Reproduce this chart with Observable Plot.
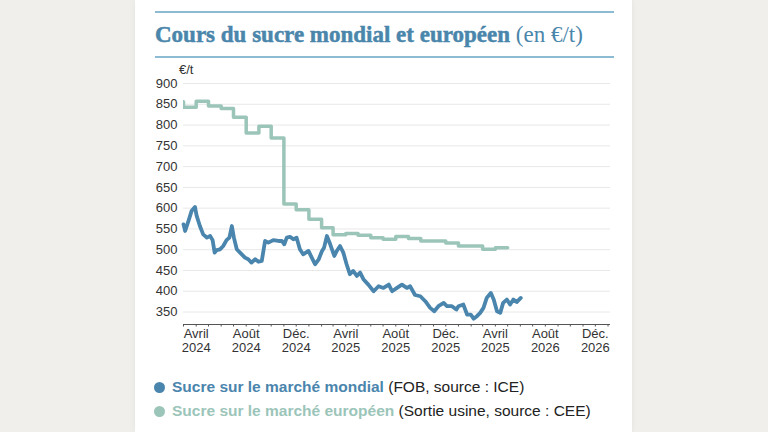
<!DOCTYPE html>
<html><head><meta charset="utf-8">
<script src="https://cdn.jsdelivr.net/npm/d3@7"></script>
<script src="https://cdn.jsdelivr.net/npm/@observablehq/plot@0.6"></script>
<style>
html,body{margin:0;padding:0;width:768px;height:432px;overflow:hidden;background:#f1efeb;font-family:"Liberation Sans",Arial,sans-serif;}
#panel{position:absolute;left:135px;top:0;width:497px;height:432px;background:#fff;box-shadow:0 0 6px rgba(0,0,0,0.06);}
.rule{position:absolute;left:20px;width:459px;height:2px;background:#8dbbd3;}
#title{position:absolute;left:20px;top:20px;white-space:nowrap;font-family:"Liberation Serif","Times New Roman",serif;font-size:23px;color:#4a86ab;line-height:30px;}
#title b{font-weight:bold;-webkit-text-stroke:0.5px #4a86ab;}
#unit{position:absolute;left:44px;top:62px;font-size:13px;color:#333;}
#chart{position:absolute;left:0;top:60px;}
.leg{position:absolute;left:19px;white-space:nowrap;font-size:15.5px;color:#222;line-height:18px;}
.leg .dot{display:inline-block;width:11px;height:11px;border-radius:50%;margin-right:7px;vertical-align:-1px;}
.leg b{font-weight:bold;}
</style></head>
<body>
<div id="panel">
  <div class="rule" style="top:11px"></div>
  <div id="title"><b>Cours du sucre mondial et européen</b> (en €/t)</div>
  <div class="rule" style="top:56px"></div>
  <div id="unit">€/t</div>
  <div id="chart"></div>
  <div class="leg" style="top:378px"><span class="dot" style="background:#4a85ad"></span><b style="color:#4a85ad">Sucre sur le marché mondial</b> (FOB, source : ICE)</div>
  <div class="leg" style="top:402px"><span class="dot" style="background:#9cc5ba"></span><b style="color:#9cc5ba">Sucre sur le marché européen</b> (Sortie usine, source : CEE)</div>
</div>
<script>
// Marché mondial (FOB, ICE), €/t
const worldDates = ["2024-03-01","2024-03-05","2024-03-13","2024-03-21","2024-03-29","2024-04-02","2024-04-10","2024-04-18","2024-04-27","2024-05-05","2024-05-11","2024-05-16","2024-05-21","2024-05-29","2024-06-06","2024-06-14","2024-06-21","2024-06-27","2024-07-02","2024-07-09","2024-07-17","2024-07-29","2024-08-06","2024-08-14","2024-08-23","2024-08-31","2024-09-08","2024-09-16","2024-09-24","2024-10-06","2024-10-19","2024-10-27","2024-11-02","2024-11-08","2024-11-16","2024-11-24","2024-12-02","2024-12-10","2024-12-18","2024-12-31","2025-01-08","2025-01-16","2025-01-25","2025-02-02","2025-02-07","2025-02-14","2025-02-22","2025-03-04","2025-03-10","2025-03-18","2025-03-26","2025-04-03","2025-04-11","2025-04-19","2025-04-28","2025-05-06","2025-05-14","2025-05-26","2025-06-08","2025-06-20","2025-07-02","2025-07-15","2025-07-23","2025-08-04","2025-08-16","2025-08-28","2025-09-05","2025-09-17","2025-09-30","2025-10-12","2025-10-24","2025-11-03","2025-11-13","2025-11-26","2025-12-04","2025-12-16","2025-12-27","2026-01-01","2026-01-13","2026-01-22","2026-01-31","2026-02-07","2026-02-15","2026-02-23","2026-03-03","2026-03-11","2026-03-21","2026-03-28","2026-04-05","2026-04-13","2026-04-20","2026-04-29","2026-05-07","2026-05-15","2026-05-23","2026-06-02"];
const worldValues = [561,545,569,594,603,582,557,537,529,533,523,493,499,501,509,523,529,557,529,501,493,481,477,469,477,471,473,521,517,523,521,521,513,529,531,525,529,501,489,497,481,465,477,497,505,533,513,485,497,509,493,465,441,449,437,445,429,416,400,412,408,416,400,408,416,408,412,391,388,376,360,352,364,372,364,364,356,364,368,344,344,334,340,348,360,384,396,380,352,348,372,380,368,380,374,384];
// Marché européen (sortie usine, CEE), €/t, mensuel
const euDates = ["2024-02-01","2024-03-01","2024-04-01","2024-05-01","2024-06-01","2024-07-01","2024-08-01","2024-09-01","2024-10-01","2024-11-01","2024-12-01","2025-01-01","2025-02-01","2025-03-01","2025-04-01","2025-05-01","2025-06-01","2025-07-01","2025-08-01","2025-09-01","2025-10-01","2025-11-01","2025-12-01","2026-01-01","2026-02-01","2026-03-01","2026-04-01","2026-05-01"];
const euValues = [856,843,857,846,840,819,781,797,769,610,596,573,553,536,539,535,529,525,532,527,521,521,516,509,509,501,505,505];
// Axe
const tickDates = ["2024-04-01","2024-08-01","2024-12-01","2025-04-01","2025-08-01","2025-12-01","2026-04-01","2026-08-01","2026-12-01"];
const tickMonths = ["Avril","Août","Déc.","Avril","Août","Déc.","Avril","Août","Déc."];
const tickYears = ["2024","2024","2024","2025","2025","2025","2025","2026","2026"];
const yTicks = [350,400,450,500,550,600,650,700,750,800,850,900];

const world = worldDates.map((d,i)=>({date:new Date(d+"T00:00:00Z"), value:worldValues[i]}));
const eu = euDates.map((d,i)=>({date:new Date(d+"T00:00:00Z"), value:euValues[i]}));
const ticks = tickDates.map(d=>new Date(d+"T00:00:00Z"));
const monthTicks = d3.utcMonth.range(new Date("2024-03-01T00:00:00Z"), new Date("2027-01-02T00:00:00Z"));
const xDomain = [new Date("2024-03-01T00:00:00Z"), new Date("2027-01-07T00:00:00Z")];
const yMin = 320;
const idx = d => ticks.findIndex(t => +t === +d);

const chart = Plot.plot({
  width: 497, height: 300,
  marginLeft: 48, marginRight: 22, marginTop: 23, marginBottom: 36,
  style: {fontFamily: '"Liberation Sans", Arial, sans-serif', fontSize: "13px", color: "#333", background: "transparent"},
  x: {type: "utc", domain: xDomain},
  y: {domain: [yMin, 900]},
  marks: [
    Plot.gridY(yTicks, {stroke: "#e8e8e8", strokeOpacity: 1}),
    Plot.axisY(yTicks, {tickSize: 0, tickPadding: 6, fontSize: 13, fill: "#333", label: null}),
    Plot.ruleY([yMin], {stroke: "#555", strokeWidth: 1}),
    Plot.axisX(monthTicks, {tickSize: 2.5, tickFormat: () => "", stroke: "#555", label: null}),
    Plot.axisX(ticks, {tickSize: 0, tickPadding: 4, fontSize: 13, fill: "#333", label: null,
      tickFormat: d => tickMonths[idx(d)]}),
    Plot.axisX(ticks, {tickSize: 0, tickPadding: 18, fontSize: 13, fill: "#333", label: null,
      tickFormat: d => tickYears[idx(d)]}),
    Plot.line(eu, {x: "date", y: "value", curve: "step-after", stroke: "#9cc5ba", strokeWidth: 3.5, strokeLinejoin: "round", clip: true}),
    Plot.line(world, {x: "date", y: "value", stroke: "#4a85ad", strokeWidth: 3.8, strokeLinejoin: "round", strokeLinecap: "round"})
  ]
});
document.getElementById("chart").appendChild(chart);
</script>
</body></html>
